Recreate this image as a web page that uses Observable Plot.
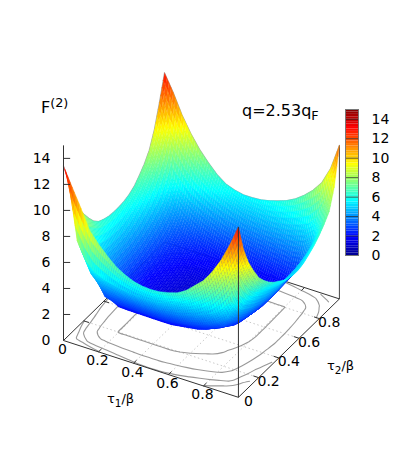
<!DOCTYPE html>
<html><head><meta charset="utf-8">
<script src="https://cdn.jsdelivr.net/npm/d3@7"></script>
<script src="https://cdn.jsdelivr.net/npm/@observablehq/plot@0.6"></script>
<style>
html,body{margin:0;padding:0;background:#fff}
#wrap{position:relative;width:403px;height:460px;overflow:hidden;font-family:"DejaVu Sans",sans-serif;color:#000}
#wrap svg{display:block;background:transparent}
.lab{position:absolute;white-space:nowrap;line-height:1}
.lab sub,.lab sup{font-size:.8em;line-height:0}
</style></head><body><div id="wrap"></div>
<script>
// F(2) on a 0.05 grid, from the rim (index 0) to the centre (index 10).
// Quadrants around the tau1=tau2 corners (sharp contours):
const sameA0 = [13.4,12,10.5,9,8.2,7.5,7,6.6,6.3,6.1,6];
const sameA1 = [12,7.5,6.2,5.5,5.2,5,4.85,4.75,4.7,4.7,4.7];
const sameA2 = [10.5,6.2,4.8,4.15,3.9,3.8,3.7,3.65,3.6,3.6,3.6];
const sameA3 = [9,5.5,4.15,2.9,2.7,2.68,2.65,2.62,2.6,2.6,2.6];
const sameA4 = [8.2,5.2,3.9,2.7,1.95,1.93,1.92,1.91,1.9,1.9,1.9];
const sameA5 = [7.5,5,3.8,2.68,1.93,1.6,1.6,1.6,1.6,1.6,1.6];
const sameA6 = [7,4.85,3.7,2.65,1.92,1.6,1.35,1.35,1.35,1.35,1.35];
const sameA7 = [6.6,4.75,3.65,2.62,1.91,1.6,1.35,1.18,1.18,1.18,1.18];
const sameA8 = [6.3,4.7,3.6,2.6,1.9,1.6,1.35,1.18,1.07,1.07,1.07];
const sameA9 = [6.1,4.7,3.6,2.6,1.9,1.6,1.35,1.18,1.07,1.03,1.02];
const sameA10 = [6,4.7,3.6,2.6,1.9,1.6,1.35,1.18,1.07,1.02,1];
// Quadrants around the other two corners (rounded contours):
const crossB0 = [13,11.7,10.2,9,8,7.2,6.6,6.1,5.9,5.8,5.8];
const crossB1 = [11.7,9.4,8.3,7.3,6.5,6,5.6,5.3,5.05,4.85,4.7];
const crossB2 = [10.2,8.3,6.2,5.4,4.8,4.5,4.2,4,3.8,3.7,3.6];
const crossB3 = [9,7.3,5.4,4.3,3.8,3.4,3.15,2.95,2.8,2.7,2.6];
const crossB4 = [8,6.5,4.8,3.8,3.1,2.75,2.4,2.2,2.1,2,1.9];
const crossB5 = [7.2,6,4.5,3.4,2.75,2.35,2.1,1.95,1.8,1.7,1.6];
const crossB6 = [6.6,5.6,4.2,3.15,2.4,2.1,1.8,1.6,1.5,1.42,1.35];
const crossB7 = [6.1,5.3,4,2.95,2.2,1.95,1.6,1.35,1.28,1.22,1.18];
const crossB8 = [5.9,5.05,3.8,2.8,2.1,1.8,1.5,1.28,1.12,1.09,1.07];
const crossB9 = [5.8,4.85,3.7,2.7,2,1.7,1.42,1.22,1.09,1.03,1.02];
const crossB10 = [5.8,4.7,3.6,2.6,1.9,1.6,1.35,1.18,1.07,1.02,1];
// the four rims of the surface, read separately
const rimTau1At0 = [13.4,12,10.5,9,8.2,7.5,6.9,6.5,6.3,6.15,6.1,6.1,6.15,6.3,6.55,7,7.5,8.2,9.4,11.1,13];
const rimTau2At0 = [13.4,12,10.6,9.1,8.3,7.6,7,6.6,6.3,6.15,6.1,6.15,6.3,6.5,6.9,7.5,8.1,9,10.1,11.5,13.1];
const rimTau1At1 = [13.1,11,9.6,8.6,7.7,7.1,6.6,6.2,5.9,5.6,5.4,5.3,5.3,5.45,5.7,6,6.4,6.9,7.5,9,11.8];
const rimTau2At1 = [13,11.7,10.2,9,8,7.2,6.5,6,5.75,5.6,5.6,5.65,5.8,6,6.25,6.6,7.1,7.7,8.5,9.8,11.8];
const contourLevels = [2,4,6,8];
const tauTicks = [0,0.2,0.4,0.6,0.8];
const zTicks = [0,2,4,6,8,10,12,14];
const zAxisMax = 15;
const barStep = 0.25;
const jet = ["#00008f","#0000ff","#0080ff","#00ffff","#80ff80","#ffff00","#ff8000","#ff0000","#800000"];

const sameRings = [sameA0,sameA1,sameA2,sameA3,sameA4,sameA5,sameA6,sameA7,sameA8,sameA9,sameA10];
const crossRings = [crossB0,crossB1,crossB2,crossB3,crossB4,crossB5,crossB6,crossB7,crossB8,crossB9,crossB10];
const N = 20;
const folded = i => Math.min(i, N - i);
const Z = d3.range(N + 1).map(i => d3.range(N + 1).map(j =>
  ((i<=10)===(j<=10) ? sameRings : crossRings)[folded(i)][folded(j)]));
for (let k=0;k<=N;k++){ Z[0][k]=rimTau1At0[k]; Z[k][0]=rimTau2At0[k]; Z[N][k]=rimTau1At1[k]; Z[k][N]=rimTau2At1[k]; }

// orthographic view, like gnuplot's set view
const rz = 30 * Math.PI / 180, cosTilt = 0.5625, zUnit = 0.0644;
const project = (a,b,z=0) => ({x: a*Math.cos(rz) + b*Math.sin(rz), y: (b*Math.cos(rz) - a*Math.sin(rz))*cosTilt + z*zUnit});
const depth = (a,b) => b*Math.cos(rz) - a*Math.sin(rz);

// surface facets, far to near
const sub = 4, facets = [];
const bil = (i,j,s,t) => (1-s)*(1-t)*Z[i][j] + s*(1-t)*Z[i+1][j] + (1-s)*t*Z[i][j+1] + s*t*Z[i+1][j+1];
for (let i=0;i<N;i++) for (let j=0;j<N;j++) for (let p=0;p<sub;p++) for (let q=0;q<sub;q++) {
  const corners = [[p,q],[p+1,q],[p+1,q+1],[p,q+1]].map(([m,n]) => {
    const s=m/sub,t=n/sub;
    return {a:(i+s)/N,b:(j+t)/N,z:bil(i,j,s,t)};
  });
  facets.push({a:(i+(p+.5)/sub)/N,b:(j+(q+.5)/sub)/N,corners,z:d3.mean(corners,c=>c.z)});
}
facets.sort((f,g)=>depth(g.a,g.b)-depth(f.a,f.b));
const surfaceRows = [];
facets.forEach((f,id)=>{ for (const c of f.corners){ const p=project(c.a,c.b,c.z); surfaceRows.push({id,x:p.x,y:p.y,v:f.z}); } });

// floor contours from the same table
const flat = [];
for (let j=0;j<=N;j++) for (let i=0;i<=N;i++) flat.push(-Z[i][j]);
const contourRows = [];
let cid = 0;
d3.contours().size([N+1,N+1]).thresholds(contourLevels.map(l=>-l))(flat).forEach(mp=>{
  mp.coordinates.forEach(poly=>poly.forEach(ring=>{
    cid++;
    ring.forEach(([cx,cy])=>{
      const a=(cx-.5)/N,b=(cy-.5)/N;
      if (a<=0.001||a>=.999||b<=0.001||b>=.999){cid++;return;}
      const p=project(a,b,0); contourRows.push({id:cid,x:p.x,y:p.y});
    });
  }));
});

// floor grid, borders and ticks
const seg = (a1,b1,z1,a2,b2,z2) => { const p=project(a1,b1,z1),q=project(a2,b2,z2); return {x1:p.x,y1:p.y,x2:q.x,y2:q.y}; };
const inner = tauTicks.slice(1);
const grid = inner.flatMap(t=>[seg(t,0,0,t,1,0),seg(0,t,0,1,t,0)]);
const backBorders = [seg(0,0,0,0,1,0),seg(0,1,0,1,1,0)];
const frontBorders = [seg(0,0,0,1,0,0),seg(1,0,0,1,1,0)];
const tk = 0.03;
const tickSegs = inner.flatMap(t=>[seg(t,0,0,t,tk,0),seg(t,1,0,t,1-tk,0),seg(0,t,0,tk,t,0),seg(1,t,0,1-tk,t,0)]);
const zAxisLine = [seg(0,0,0,0,0,zAxisMax)];
const zTickSegs = zTicks.slice(1).map(z=>{const p=project(0,0,z);return {x1:p.x,y1:p.y,x2:p.x+0.033,y2:p.y};});
const verticals = [seg(1,1,0,1,1,Z[N][N])];
const frontVertical = [seg(1,0,0,1,0,Z[N][0])];
const rimBack = [
  ...d3.range(N+1).map(i=>({id:1,...project(i/N,1,Z[i][N])})),
  ...d3.range(N+1).map(j=>({id:2,...project(0,j/N,Z[0][j])}))
];

const colorScale = {type:"linear",domain:[0,zAxisMax],interpolate:d3.piecewise(d3.interpolateRgb,jet)};
const main = Plot.plot({
  width:403,height:460,margin:0,
  x:{axis:null,domain:[-63/202,340/202],range:[0,403]},
  y:{axis:null,domain:[-120/202,340/202],range:[460,0]},
  color:colorScale,
  style:{fontFamily:'"DejaVu Sans",sans-serif',fontSize:"14px",color:"#000",background:"transparent"},
  marks:[
    Plot.link(grid,{x1:"x1",y1:"y1",x2:"x2",y2:"y2",stroke:"#bbb",strokeWidth:.8,strokeDasharray:"1.5,2.5"}),
    Plot.line(contourRows,{x:"x",y:"y",z:"id",stroke:"#999",strokeWidth:1.1,curve:"catmull-rom"}),
    Plot.link(backBorders,{x1:"x1",y1:"y1",x2:"x2",y2:"y2",stroke:"#333",strokeWidth:1}),
    Plot.link(tickSegs,{x1:"x1",y1:"y1",x2:"x2",y2:"y2",stroke:"#333",strokeWidth:1}),
    Plot.line(rimBack,{x:"x",y:"y",z:"id",stroke:"#aaa",strokeWidth:1.2}),
    Plot.link(verticals,{x1:"x1",y1:"y1",x2:"x2",y2:"y2",stroke:"#555",strokeWidth:1.1}),
    Plot.line(surfaceRows,{x:"x",y:"y",z:"id",fill:"v",stroke:"v",strokeWidth:.4}),
    Plot.link(frontBorders,{x1:"x1",y1:"y1",x2:"x2",y2:"y2",stroke:"#333",strokeWidth:1}),
    Plot.link(frontVertical,{x1:"x1",y1:"y1",x2:"x2",y2:"y2",stroke:"#333",strokeWidth:1}),
    Plot.link(zAxisLine,{x1:"x1",y1:"y1",x2:"x2",y2:"y2",stroke:"#333",strokeWidth:1}),
    Plot.link(zTickSegs,{x1:"x1",y1:"y1",x2:"x2",y2:"y2",stroke:"#333",strokeWidth:1}),
    Plot.text(zTicks,{x:()=>project(0,0,0).x,y:z=>project(0,0,z).y,text:d=>String(d),textAnchor:"end",dx:-13,fill:"#000",fontSize:14}),
    Plot.text(tauTicks,{x:t=>project(t,0,0).x,y:t=>project(t,0,0).y,text:d=>String(d),dx:-1,dy:9,fill:"#000",fontSize:14}),
    Plot.text(tauTicks,{x:t=>project(1,t,0).x,y:t=>project(1,t,0).y,text:d=>String(d),dx:10,dy:4,fill:"#000",fontSize:14})
  ]
});

const barLevels = d3.range(0,zAxisMax,barStep);
const bar = Plot.plot({
  width:58,height:148,marginTop:1,marginBottom:1,marginLeft:1,marginRight:44,
  x:{axis:null,domain:[0,1]},
  y:{axis:null,domain:[0,zAxisMax]},
  color:colorScale,
  style:{fontFamily:'"DejaVu Sans",sans-serif',fontSize:"14px",color:"#000",background:"transparent",overflow:"visible"},
  marks:[
    Plot.rect(barLevels,{x1:()=>0,x2:()=>1,y1:d=>d,y2:d=>d+barStep,fill:d=>d+barStep/2}),
    Plot.tickY(zTicks,{y:d=>d,stroke:"#222",strokeWidth:.7}),
    Plot.frame({stroke:"#777"}),
    Plot.axisY(zTicks,{anchor:"right",tickSize:0,tickPadding:13,fill:"#000",fontSize:14,label:null})
  ]
});
bar.style.position="absolute"; bar.style.left="344px"; bar.style.top="108px";

const wrap=document.getElementById("wrap");
wrap.append(main,bar);
const addLabel=(html,x,y,size)=>{const e=document.createElement("div");e.className="lab";e.innerHTML=html;e.style.left=x+"px";e.style.top=y+"px";e.style.fontSize=size+"px";wrap.append(e);};
addLabel("F<sup>(2)</sup>",41,100,16);
addLabel("q=2.53q<sub>F</sub>",242,103,16);
addLabel("τ<sub>1</sub>/β",107,392,13);
addLabel("τ<sub>2</sub>/β",327,359,13);
</script></body></html>
